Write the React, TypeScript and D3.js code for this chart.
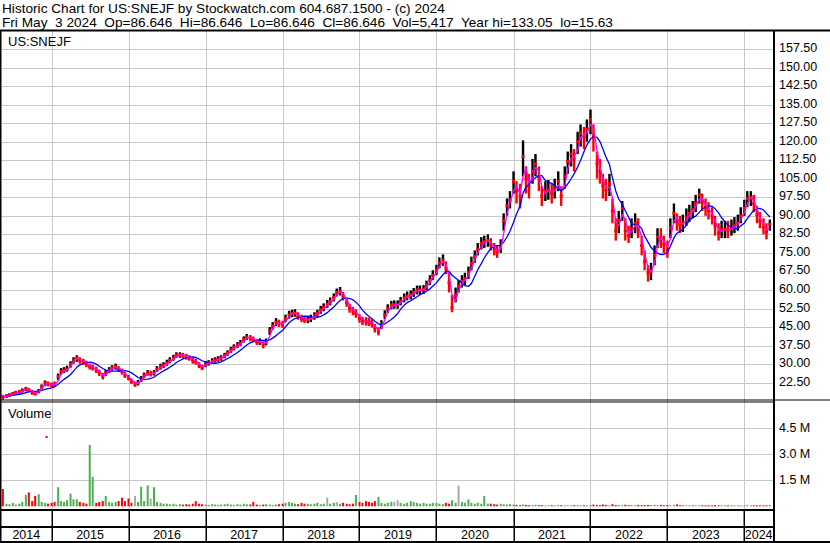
import React from "react";
import * as d3 from "d3";

const headerLine1 = "Historic Chart for US:SNEJF by Stockwatch.com 604.687.1500 - (c) 2024";
const headerLine2 = "Fri May  3 2024  Op=86.646  Hi=86.646  Lo=86.646  Cl=86.646  Vol=5,417  Year hi=133.05  lo=15.63";
const symbolLabel = "US:SNEJF";
const volumeLabel = "Volume";

// [date, low, high, close]
const priceBars: [string, number, number, number][] = [
  ["2014-05-15",15.6,17.6,16.8],["2014-06-01",16.4,17.8,17.2],["2014-06-15",16.8,18.2,17.5],["2014-07-01",17.2,18.8,18.0],
  ["2014-07-15",17.6,19.2,18.5],["2014-08-01",18.0,19.6,18.9],["2014-08-15",18.5,20.2,19.3],["2014-09-01",19.0,20.8,20.0],
  ["2014-09-15",18.8,20.4,19.5],["2014-10-01",17.6,19.6,18.5],["2014-10-15",17.4,18.8,18.0],["2014-11-01",18.2,20.0,19.3],
  ["2014-11-15",19.8,21.8,21.0],["2014-12-01",21.2,23.4,22.4],["2014-12-15",21.0,23.0,22.0],
  ["2015-01-01",20.6,22.6,21.6],["2015-01-15",20.8,23.0,21.5],["2015-02-01",23.5,26.2,25.0],["2015-02-15",25.8,28.4,27.0],
  ["2015-03-01",26.4,28.8,27.5],["2015-03-15",27.0,29.4,28.0],["2015-04-01",28.6,31.2,30.0],["2015-04-15",30.2,32.8,31.5],
  ["2015-05-01",31.0,33.6,32.5],["2015-05-15",30.2,32.8,31.5],["2015-06-01",29.8,32.2,31.0],["2015-06-15",28.8,31.4,30.0],
  ["2015-07-01",27.8,30.2,29.0],["2015-07-15",27.4,29.8,28.5],["2015-08-01",26.4,29.0,27.6],["2015-08-15",25.2,27.8,26.5],
  ["2015-09-01",23.8,26.4,25.0],["2015-09-15",25.2,27.6,26.4],["2015-10-01",26.4,28.8,27.5],["2015-10-15",27.4,29.6,28.5],
  ["2015-11-01",27.8,30.2,29.0],["2015-11-15",26.8,29.2,28.0],["2015-12-01",25.8,28.2,27.0],["2015-12-15",24.4,26.8,25.5],
  ["2016-01-01",23.4,25.6,24.4],["2016-01-15",22.0,24.2,23.0],["2016-02-01",20.8,23.0,21.8],["2016-02-15",21.4,23.6,22.5],
  ["2016-03-01",22.8,25.2,24.0],["2016-03-15",24.4,26.6,25.5],["2016-04-01",25.4,27.6,26.4],["2016-04-15",25.0,27.4,26.2],
  ["2016-05-01",25.4,27.6,26.5],["2016-05-15",26.8,29.2,28.0],["2016-06-01",27.8,30.2,29.0],["2016-06-15",28.4,30.8,29.5],
  ["2016-07-01",29.4,31.8,30.5],["2016-07-15",30.4,32.8,31.5],["2016-08-01",31.4,33.8,32.5],["2016-08-15",32.6,34.8,33.7],
  ["2016-09-01",32.6,34.8,33.7],["2016-09-15",32.4,34.6,33.5],["2016-10-01",31.8,34.2,33.0],["2016-10-15",31.4,33.6,32.5],
  ["2016-11-01",30.2,32.8,31.5],["2016-11-15",29.8,32.2,31.0],["2016-12-01",28.4,30.8,29.5],["2016-12-15",27.6,29.8,28.6],
  ["2017-01-01",28.8,31.2,30.0],["2017-01-15",29.4,31.6,30.5],["2017-02-01",30.2,32.4,31.2],["2017-02-15",30.6,32.8,31.7],
  ["2017-03-01",31.0,33.2,32.0],["2017-03-15",31.4,33.6,32.5],["2017-04-01",32.4,34.6,33.5],["2017-04-15",33.4,35.6,34.5],
  ["2017-05-01",34.6,37.0,35.8],["2017-05-15",35.6,38.0,36.8],["2017-06-01",36.6,39.0,37.8],["2017-06-15",37.4,39.8,38.6],
  ["2017-07-01",38.8,41.2,40.0],["2017-07-15",39.8,42.2,41.0],["2017-08-01",39.2,41.8,40.5],["2017-08-15",38.8,41.2,40.0],
  ["2017-09-01",37.8,40.2,39.0],["2017-09-15",37.8,40.4,39.0],["2017-10-01",36.4,39.2,37.8],["2017-10-15",37.6,40.4,39.0],
  ["2017-11-01",41.8,45.0,43.5],["2017-11-15",44.0,47.0,45.5],["2017-12-01",45.4,48.6,47.0],["2017-12-15",45.0,48.0,46.5],
  ["2018-01-01",44.6,47.6,46.0],["2018-01-15",47.0,50.0,48.5],["2018-02-01",48.4,51.6,50.0],["2018-02-15",49.0,52.0,50.5],
  ["2018-03-01",49.2,52.2,50.7],["2018-03-15",48.0,51.0,49.5],["2018-04-01",47.0,50.0,48.5],["2018-04-15",46.6,49.6,48.0],
  ["2018-05-01",46.6,49.6,48.0],["2018-05-15",47.0,50.0,48.5],["2018-06-01",48.0,51.0,49.5],["2018-06-15",49.0,52.0,50.5],
  ["2018-07-01",50.4,53.6,52.0],["2018-07-15",51.4,54.6,53.0],["2018-08-01",52.8,56.0,54.3],["2018-08-15",53.8,57.0,55.3],
  ["2018-09-01",55.4,58.6,57.0],["2018-09-15",57.4,60.6,59.0],["2018-10-01",57.8,61.2,59.5],["2018-10-15",55.8,59.2,57.5],
  ["2018-11-01",53.2,56.8,55.0],["2018-11-15",50.8,54.4,52.6],["2018-12-01",49.8,53.2,51.5],["2018-12-15",48.8,52.2,50.5],
  ["2019-01-01",46.8,50.2,48.5],["2019-01-15",45.8,49.2,47.5],["2019-02-01",45.6,49.0,47.2],["2019-02-15",45.4,48.8,47.0],
  ["2019-03-01",44.8,48.2,46.5],["2019-03-15",42.8,46.2,44.5],["2019-04-01",41.6,45.0,43.0],["2019-04-15",44.2,47.8,46.0],
  ["2019-05-01",48.2,51.8,49.9],["2019-05-15",50.8,54.2,52.5],["2019-06-01",52.2,55.6,53.9],["2019-06-15",52.4,55.8,54.0],
  ["2019-07-01",52.4,55.8,54.0],["2019-07-15",53.8,57.2,55.5],["2019-08-01",55.0,58.6,56.8],["2019-08-15",55.8,59.4,57.5],
  ["2019-09-01",56.2,59.8,58.0],["2019-09-15",57.2,60.8,59.0],["2019-10-01",58.2,61.8,60.0],["2019-10-15",58.2,61.8,60.0],
  ["2019-11-01",58.4,62.0,60.2],["2019-11-15",60.0,63.8,62.0],["2019-12-01",62.0,66.0,64.0],["2019-12-15",64.0,68.0,66.0],
  ["2020-01-01",66.0,70.2,68.0],["2020-01-15",68.8,73.2,71.0],["2020-02-01",69.8,74.4,72.0],["2020-02-15",66.4,71.6,69.0],
  ["2020-03-01",59.0,67.0,63.0],["2020-03-15",51.0,58.0,53.0],["2020-04-01",55.0,61.0,58.0],["2020-04-15",59.0,64.0,61.5],
  ["2020-05-01",61.0,66.0,63.5],["2020-05-15",62.0,67.0,64.5],["2020-06-01",64.5,69.5,67.0],["2020-06-15",68.0,73.5,70.8],
  ["2020-07-01",71.0,76.0,73.5],["2020-07-15",74.0,79.0,76.5],["2020-08-01",76.4,81.4,78.9],["2020-08-15",77.0,82.0,79.5],
  ["2020-09-01",77.5,82.5,80.0],["2020-09-15",76.0,81.0,78.5],["2020-10-01",74.0,79.0,76.5],["2020-10-15",73.0,78.0,75.5],
  ["2020-11-01",75.0,80.5,77.5],["2020-11-15",84.0,91.0,88.0],["2020-12-01",90.0,97.0,94.0],["2020-12-15",93.0,100.0,96.4],
  ["2021-01-01",99.0,108.0,104.0],["2021-01-15",95.0,104.0,100.0],["2021-02-01",93.0,103.0,98.0],["2021-02-15",106.0,120.5,114.0],
  ["2021-03-01",99.0,110.0,105.0],["2021-03-15",97.0,107.0,102.0],["2021-04-01",103.0,113.0,108.0],["2021-04-15",106.0,115.0,111.0],
  ["2021-05-01",100.0,110.0,105.8],["2021-05-15",94.0,102.0,98.0],["2021-06-01",96.0,104.0,100.0],["2021-06-15",96.5,104.5,100.5],
  ["2021-07-01",95.0,103.0,99.0],["2021-07-15",97.0,105.0,101.0],["2021-08-01",100.0,108.0,104.0],["2021-08-15",94.0,102.0,98.0],
  ["2021-09-01",101.0,110.0,106.0],["2021-09-15",107.0,116.0,112.0],["2021-10-01",110.0,119.0,115.0],["2021-10-15",108.0,117.0,113.0],
  ["2021-11-01",115.0,124.0,120.0],["2021-11-15",118.0,127.0,123.4],["2021-12-01",117.0,126.0,122.0],["2021-12-15",120.0,129.0,125.0],
  ["2022-01-01",123.0,133.0,129.0],["2022-01-15",116.0,127.0,122.0],["2022-02-01",105.0,116.0,111.0],["2022-02-15",103.0,113.0,108.0],
  ["2022-03-01",97.0,107.0,102.0],["2022-03-15",96.0,105.0,100.5],["2022-04-01",98.0,107.0,103.0],["2022-04-15",87.0,97.0,92.0],
  ["2022-05-01",80.0,89.0,84.0],["2022-05-15",83.0,92.0,88.0],["2022-06-01",88.0,96.0,93.0],["2022-06-15",80.0,89.0,84.0],
  ["2022-07-01",79.0,86.0,82.0],["2022-07-15",81.0,89.0,85.0],["2022-08-01",83.0,91.0,87.0],["2022-08-15",81.0,89.0,85.0],
  ["2022-09-01",74.0,82.0,78.0],["2022-09-15",68.0,76.0,71.5],["2022-10-01",63.4,70.0,67.0],["2022-10-15",64.0,71.0,67.5],
  ["2022-11-01",70.0,78.0,74.0],["2022-11-15",77.0,85.0,81.5],["2022-12-01",77.0,85.0,81.0],["2022-12-15",75.0,82.0,78.5],
  ["2023-01-01",73.0,80.0,76.5],["2023-01-15",81.0,89.0,85.0],["2023-02-01",87.0,95.0,91.0],["2023-02-15",84.0,91.0,87.5],
  ["2023-03-01",83.0,90.0,86.5],["2023-03-15",83.5,90.5,87.0],["2023-04-01",86.0,93.0,89.5],["2023-04-15",87.5,94.5,91.0],
  ["2023-05-01",89.0,96.0,92.5],["2023-05-15",91.5,98.5,95.0],["2023-06-01",95.0,101.0,98.5],["2023-06-15",92.0,99.0,95.5],
  ["2023-07-01",90.0,97.0,93.5],["2023-07-15",88.5,95.5,92.0],["2023-08-01",86.5,93.5,90.0],["2023-08-15",82.0,90.0,86.0],
  ["2023-09-01",80.0,87.0,83.0],["2023-09-15",81.0,88.0,84.5],["2023-10-01",81.0,88.0,84.5],["2023-10-15",81.0,88.0,84.3],
  ["2023-11-01",82.0,88.5,85.0],["2023-11-15",83.0,89.5,86.0],["2023-12-01",84.0,90.5,87.0],["2023-12-15",87.0,93.5,90.0],
  ["2024-01-01",90.0,96.5,93.0],["2024-01-15",93.5,100.0,97.0],["2024-02-01",94.0,100.0,97.5],["2024-02-15",91.5,98.5,95.0],
  ["2024-03-01",87.0,94.0,90.5],["2024-03-15",85.0,91.5,88.0],["2024-04-01",82.5,89.0,85.5],["2024-04-15",80.5,87.0,83.5],
  ["2024-05-01",84.0,88.5,86.6],
];

// volume in thousands of shares, one per price bar (same order)
const volumeK: number[] = [
  1000,150,120,200,100,150,250,650,800,300,600,700,250,200,150,
  200,250,1100,300,250,350,730,400,400,250,200,150,3540,1700,200,250,300,600,250,200,250,300,500,300,
  450,200,600,250,1130,300,1200,450,1100,250,200,150,150,120,150,100,120,100,120,100,150,300,150,120,
  100,80,120,100,80,100,120,150,100,80,120,100,150,120,100,250,100,80,100,120,100,80,100,120,
  150,200,250,200,150,120,200,150,150,120,150,200,120,150,500,150,200,250,150,200,150,120,150,650,
  250,200,300,250,200,300,550,200,150,200,250,250,350,200,150,200,300,250,200,150,200,150,150,200,
  200,150,120,200,150,350,200,1190,250,200,400,200,150,200,150,600,150,150,120,100,150,120,100,120,
  100,80,60,100,80,60,70,80,60,70,50,60,60,50,70,60,50,60,50,60,70,50,60,50,
  80,100,70,60,100,80,60,120,70,80,60,90,60,70,60,80,60,70,80,70,90,60,80,60,
  70,60,80,110,60,70,60,50,70,60,50,60,50,60,50,70,60,50,60,50,60,50,60,50,
  60,70,50,60,50,60,50,60,70,
];

// volume bars whose colour does not follow the close-to-close change
const volumeDirOverrides: [string, "up" | "down" | "flat"][] = [
  ["2015-07-01","up"],["2015-07-15","up"],["2016-02-01","flat"],["2016-04-15","flat"],
  ["2018-08-01","flat"],["2018-09-15","flat"],["2018-12-15","up"],["2019-04-01","up"],
  ["2019-06-15","flat"],["2019-07-01","flat"],["2020-03-15","up"],["2020-04-15","flat"],
];

const volumeOutliers: [string, number][] = [["2014-12-08", 4000]];

const priceTicks = [22.5, 30, 37.5, 45, 52.5, 60, 67.5, 75, 82.5, 90, 97.5, 105, 112.5, 120, 127.5, 135, 142.5, 150, 157.5];
const volumeTicks = [1.5, 3.0, 4.5];
const years = [2014, 2015, 2016, 2017, 2018, 2019, 2020, 2021, 2022, 2023, 2024];

const FONT = "'Liberation Sans', Arial, sans-serif";
const parse = d3.utcParse("%Y-%m-%d");

function movingAverage(values: number[], n: number): number[] {
  return values.map((_, i) => {
    const s = Math.max(0, i - n + 1);
    const w = values.slice(s, i + 1);
    return d3.mean(w) as number;
  });
}

export default function App() {
  const W = 830, H = 543;
  const plotL = 1, plotR = 773;
  const priceTop = 31, priceBot = 400, volTop = 402, volBot = 509;
  const row1Bot = 527, row2Bot = 542;

  const x = d3.scaleUtc()
    .domain([new Date(Date.UTC(2014, 4, 6)), new Date(Date.UTC(2024, 4, 16))])
    .range([plotL, plotR]);
  const y = d3.scaleLinear().domain([22.5, 157.5]).range([382.7, 49]);
  const yv = d3.scaleLinear().domain([0, 4.5]).range([506.3, 428.3]);

  const bars = priceBars.map(([d, lo, hi, c], i) => ({
    date: parse(d) as Date, lo, hi, c,
    up: i > 0 && c >= priceBars[i - 1][3],
  }));
  const closes = bars.map(b => b.c);
  const maShort = movingAverage(closes, 2);
  const maLong = movingAverage(closes, 7);

  const lineGen = d3.line<[Date, number]>().x(d => x(d[0])).y(d => y(d[1]));
  const shortPath = lineGen(bars.map((b, i) => [b.date, maShort[i]] as [Date, number])) || "";
  const longPath = lineGen(bars.map((b, i) => [b.date, maLong[i]] as [Date, number])) || "";

  const overrides = new Map(volumeDirOverrides);
  const vols = priceBars.map(([d], i) => {
    const dir = overrides.get(d) ?? (i > 0 && priceBars[i][3] >= priceBars[i - 1][3] ? "up" : "down");
    return { date: parse(d) as Date, v: volumeK[i] / 1000, dir };
  });
  const volColor = (dir: string) => dir === "up" ? "#4cb04c" : dir === "flat" ? "#a8a8a8" : "#ff0000";

  const yearStarts = years.slice(1).map(yr => x(new Date(Date.UTC(yr, 0, 1))));
  const cellEdges = [plotL, ...yearStarts, plotR];
  const grid = "#c8c8c8";

  return (
    <div style={{ position: "fixed", left: 0, top: 0 }}>
      <svg width={W} height={H} style={{ display: "block", background: "#fff" }} fontFamily={FONT}>
        <rect x={0} y={0} width={W} height={H} fill="#fff" />
        <text x={2} y={12.5} fontSize={13.65} fill="#000">{headerLine1}</text>
        <text x={2} y={26.5} fontSize={13.65} fill="#000" style={{ whiteSpace: "pre" }}>{headerLine2}</text>

        <defs>
          <clipPath id="pclip"><rect x={plotL} y={priceTop} width={plotR - plotL} height={priceBot - priceTop} /></clipPath>
          <clipPath id="vclip"><rect x={plotL} y={volTop} width={plotR - plotL} height={volBot - volTop} /></clipPath>
        </defs>

        {/* price gridlines */}
        {priceTicks.map(t => (
          <line key={"pg" + t} x1={plotL} x2={plotR} y1={Math.round(y(t)) + 0.5} y2={Math.round(y(t)) + 0.5} stroke={grid} strokeWidth={1} />
        ))}
        {volumeTicks.map(t => (
          <line key={"vg" + t} x1={plotL} x2={plotR} y1={Math.round(yv(t)) + 0.5} y2={Math.round(yv(t)) + 0.5} stroke={grid} strokeWidth={1} />
        ))}
        {yearStarts.map((xx, i) => (
          <line key={"xg" + i} x1={Math.round(xx) + 0.5} x2={Math.round(xx) + 0.5} y1={priceTop} y2={volBot} stroke={grid} strokeWidth={1} />
        ))}

        <text x={8} y={46} fontSize={13} fill="#000">{symbolLabel}</text>
        <text x={8} y={418} fontSize={13} fill="#000">{volumeLabel}</text>

        {/* price bars */}
        <g clipPath="url(#pclip)">
          {bars.map((b, i) => (
            <rect key={"b" + i} x={x(b.date) - 1.2} y={y(b.hi)} width={2.4} height={Math.max(1, y(b.lo) - y(b.hi))}
              fill={b.up ? "#000" : "#ff0000"} />
          ))}
          {bars.map((b, i) => (
            <rect key={"c" + i} x={x(b.date) - 1.5} y={y(b.c) - 1.5} width={3} height={3} fill="#ff0000" />
          ))}
          <path d={longPath} fill="none" stroke="#0000ff" strokeWidth={1.3} />
          <path d={shortPath} fill="none" stroke="#ff00ff" strokeWidth={1.3} />
        </g>

        {/* volume bars */}
        <g clipPath="url(#vclip)">
          {vols.map((v, i) => (
            <rect key={"v" + i} x={x(v.date) - 1} y={yv(v.v)} width={2} height={Math.max(1, yv(0) - yv(v.v))} fill={volColor(v.dir)} />
          ))}
          {volumeOutliers.map(([d, v], i) => (
            <rect key={"vo" + i} x={x(parse(d) as Date) - 1} y={yv(v / 1000) - 1} width={2} height={2} fill="#ff0000" />
          ))}
        </g>

        {/* frame lines */}
        <rect x={0} y={29.5} width={W} height={2} fill="#000" />
        <rect x={0} y={priceTop} width={1.5} height={H - priceTop} fill="#000" />
        <rect x={0} y={399.5} width={plotR} height={1} fill="#000" />
        <rect x={0} y={401.5} width={plotR} height={1} fill="#000" />
        <rect x={plotR} y={399.5} width={W - plotR} height={1} fill="#000" />
        <rect x={plotR} y={priceTop} width={2} height={H - priceTop} fill="#000" />
        <rect x={0} y={volBot} width={plotR} height={2} fill="#000" />
        <rect x={0} y={row1Bot - 1} width={plotR} height={2} fill="#000" />
        <rect x={0} y={row2Bot - 1} width={W} height={2} fill="#000" />
        {yearStarts.map((xx, i) => (
          <rect key={"ys" + i} x={Math.round(xx) - 0.5} y={volBot} width={1.5} height={row2Bot - volBot} fill="#000" />
        ))}

        {/* year labels */}
        {years.map((yr, i) => (
          <text key={"yl" + yr} x={(cellEdges[i] + cellEdges[i + 1]) / 2} y={539} fontSize={12.5} textAnchor="middle" fill="#000">{yr}</text>
        ))}

        {/* right axis labels */}
        {priceTicks.map(t => (
          <text key={"pl" + t} x={779} y={y(t) + 3} fontSize={12.5} fill="#000">{t.toFixed(2)}</text>
        ))}
        {volumeTicks.map(t => (
          <text key={"vl" + t} x={779} y={yv(t) + 4} fontSize={12.5} fill="#000">{t.toFixed(1) + " M"}</text>
        ))}
      </svg>
    </div>
  );
}
